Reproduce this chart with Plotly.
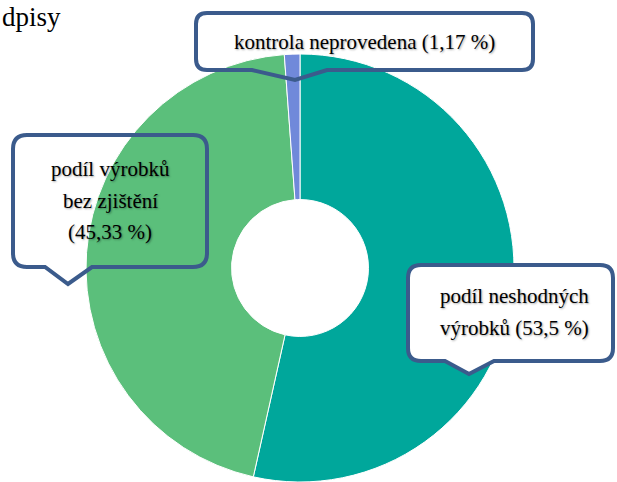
import plotly.graph_objects as go

# ---- data ----
categories = ["podíl neshodných výrobků", "podíl výrobků bez zjištění", "kontrola neprovedena"]
values = [53.5, 45.33, 1.17]
colors = ["#00A79B", "#5BBF7B", "#7089DA"]


def pct(v):
    return format(v, "g").replace(".", ",") + " %"


label_lines = [
    ["podíl neshodných", f"výrobků ({pct(values[0])})"],
    ["podíl výrobků", "bez zjištění", f"({pct(values[1])})"],
    [f"kontrola neprovedena ({pct(values[2])})"],
]

# ---- layout helpers (pixel -> paper) ----
W, H = 617, 482


def X(px):
    return px / W


def Y(py):
    return 1 - py / H


def callout_path(x0, y0, x1, y1, r, tail):
    (ax, ay), (tx, ty), (bx, by) = tail
    pts = [
        f"M {X(x0 + r)},{Y(y0)}",
        f"L {X(x1 - r)},{Y(y0)}",
        f"Q {X(x1)},{Y(y0)} {X(x1)},{Y(y0 + r)}",
        f"L {X(x1)},{Y(y1 - r)}",
        f"Q {X(x1)},{Y(y1)} {X(x1 - r)},{Y(y1)}",
        f"L {X(bx)},{Y(by)}",
        f"L {X(tx)},{Y(ty)}",
        f"L {X(ax)},{Y(ay)}",
        f"L {X(x0 + r)},{Y(y1)}",
        f"Q {X(x0)},{Y(y1)} {X(x0)},{Y(y1 - r)}",
        f"L {X(x0)},{Y(y0 + r)}",
        f"Q {X(x0)},{Y(y0)} {X(x0 + r)},{Y(y0)}",
        "Z",
    ]
    return " ".join(pts)


fig = go.Figure(
    go.Pie(
        labels=categories,
        values=values,
        marker=dict(colors=colors, line=dict(color="white", width=1)),
        hole=0.32,
        sort=False,
        direction="clockwise",
        rotation=0,
        textinfo="none",
        hoverinfo="label+percent",
        domain=dict(x=[X(86), X(514)], y=[0, Y(54)]),
    )
)

border = "#3B5B8C"
boxes = [
    # right (white fill), left and top (see-through) callouts
    (408, 265, 613, 361, 13, [(445, 361), (469, 374), (494, 361)], "white"),
    (13, 135, 207, 267, 14, [(45, 267), (68, 284), (92, 267)], "rgba(0,0,0,0)"),
    (196, 13, 533, 70, 11, [(252, 70), (295, 80), (327, 70)], "rgba(0,0,0,0)"),
]
shapes = []
for x0, y0, x1, y1, r, tail, fill in boxes:
    shapes.append(dict(
        type="path", xref="paper", yref="paper", layer="above",
        path=callout_path(x0, y0, x1, y1, r, tail),
        fillcolor=fill, line=dict(color=border, width=4),
    ))

serif = "Liberation Serif, Tinos, Times New Roman, Times, Noto Serif, DejaVu Serif, serif"
text_font = dict(family=serif, size=21, color="black",
                 shadow="1px 1px 2px rgba(0,0,0,0.35)")
line_pos = [
    [(438, 296, "left"), (438, 328, "left")],
    [(110, 169, "center"), (110, 200.5, "center"), (110, 232, "center")],
    [(364.5, 42, "center")],
]
annotations = []
for lines, poss in zip(label_lines, line_pos):
    for txt, (px_, py_, anc) in zip(lines, poss):
        annotations.append(dict(
            text=txt, xref="paper", yref="paper", x=X(px_), y=Y(py_),
            xanchor=anc, yanchor="middle", showarrow=False, font=text_font,
        ))

annotations.append(dict(
    text="dpisy", xref="paper", yref="paper", x=0, y=1, xanchor="left",
    yanchor="top", xshift=0, yshift=0, showarrow=False,
    font=dict(family=serif, size=27, color="black"),
))

fig.update_layout(
    width=W, height=H,
    margin=dict(l=0, r=0, t=0, b=0),
    paper_bgcolor="white", plot_bgcolor="white",
    showlegend=False,
    shapes=shapes,
    annotations=annotations,
)

fig.write_html(
    "out.html",
    config={"displayModeBar": False},
    post_script="document.body.style.margin='0';document.body.style.overflow='hidden';",
)
